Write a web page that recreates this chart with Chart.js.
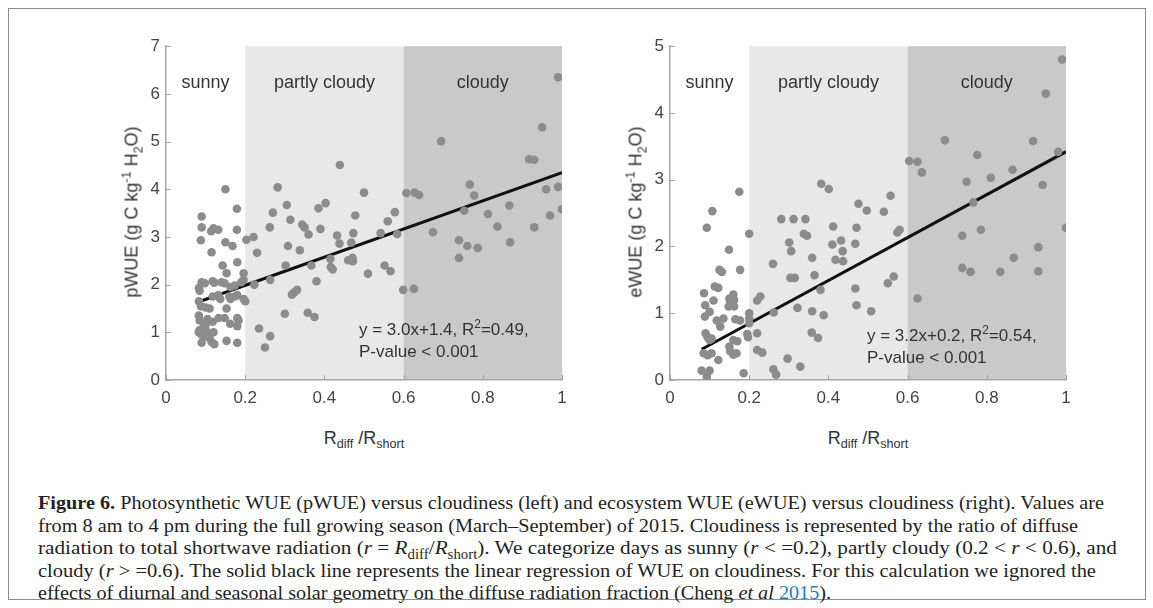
<!DOCTYPE html>
<html>
<head>
<meta charset="utf-8">
<script src="https://cdn.jsdelivr.net/npm/chart.js@4.4.1/dist/chart.umd.min.js"></script>
<style>
  html, body { margin: 0; padding: 0; background: #fff; }
  body { width: 1153px; height: 608px; position: relative; overflow: hidden; font-family: "Liberation Sans", Arial, sans-serif; }
  .frame { position: absolute; left: 8px; top: 8px; width: 1136px; height: 590px; border: 1px solid #8c8c8c; }
  .box { position: absolute; }
  .ytitle { position: absolute; transform: translate(-50%, -50%) rotate(-90deg); white-space: nowrap; font-size: 18px; color: #333; }
  .xtitle { position: absolute; transform: translate(-50%, -50%); white-space: nowrap; font-size: 18px; color: #333; }
  .note { position: absolute; white-space: nowrap; font-size: 17px; color: #333; line-height: 22px; }
  sub, sup { font-size: 70%; line-height: 0; }
  .caption { position: absolute; left: 38px; top: 492px; font-family: "Liberation Serif", "Times New Roman", serif; font-size: 19.5px; line-height: 22.5px; color: #231f20; white-space: nowrap; }
  .caption .ln { display: block; transform-origin: 0 50%; width: max-content; }
  .caption .cite { color: #1a7fc1; }
</style>
</head>
<body>
<div class="frame"></div>

<div class="box" style="left:110px; top:30px; width:470px; height:390px;"><canvas id="pwueChart"></canvas></div>
<div class="box" style="left:614px; top:30px; width:470px; height:390px;"><canvas id="ewueChart"></canvas></div>

<div class="ytitle" style="left:132px; top:212px;">pWUE (g C kg<sup>-1</sup> H<sub>2</sub>O)</div>
<div class="ytitle" style="left:636px; top:212px;">eWUE (g C kg<sup>-1</sup> H<sub>2</sub>O)</div>
<div class="xtitle" style="left:364px; top:438px;">R<sub>diff</sub> /R<sub>short</sub></div>
<div class="xtitle" style="left:868px; top:438px;">R<sub>diff</sub> /R<sub>short</sub></div>

<div class="note" style="left:359px; top:319px;">y = 3.0x+1.4, R<sup>2</sup>=0.49,<br>P-value &lt; 0.001</div>
<div class="note" style="left:867px; top:325px;">y = 3.2x+0.2, R<sup>2</sup>=0.54,<br>P-value &lt; 0.001</div>

<div class="caption">
<span class="ln"><b>Figure 6.</b> Photosynthetic WUE (pWUE) versus cloudiness (left) and ecosystem WUE (eWUE) versus cloudiness (right). Values are</span>
<span class="ln">from 8 am to 4 pm during the full growing season (March–September) of 2015. Cloudiness is represented by the ratio of diffuse</span>
<span class="ln">radiation to total shortwave radiation (<i>r</i> = <i>R</i><sub>diff</sub>/<i>R</i><sub>short</sub>). We categorize days as sunny (<i>r</i> &lt; =0.2), partly cloudy (0.2 &lt; <i>r</i> &lt; 0.6), and</span>
<span class="ln">cloudy (<i>r</i> &gt; =0.6). The solid black line represents the linear regression of WUE on cloudiness. For this calculation we ignored the</span>
<span class="ln">effects of diurnal and seasonal solar geometry on the diffuse radiation fraction (Cheng <i>et al</i> <span class="cite">2015</span>).</span>
</div>

<script>
// cloudiness classes
const regionNames = ['sunny', 'partly cloudy', 'cloudy'];
const regionCenters = [0.1, 0.4, 0.8];
const bandEdges = [0.2, 0.6, 1.0];
const xTicks = [0, 0.2, 0.4, 0.6, 0.8, 1];

// pWUE points (R_diff/R_short, pWUE)
const pwueX = [
  0.15, 0.09, 0.179, 0.09, 0.12, 0.132, 0.114, 0.179, 0.088, 0.115, 0.15, 0.168, 0.18, 0.143, 0.153,
  0.09, 0.098, 0.083, 0.085, 0.118, 0.122, 0.14, 0.148, 0.163, 0.174, 0.196, 0.196, 0.19,
  0.118, 0.132, 0.137, 0.16, 0.163, 0.174, 0.18, 0.196, 0.2, 0.083, 0.088, 0.1, 0.11, 0.153,
  0.083, 0.085, 0.105, 0.118, 0.133, 0.148, 0.162, 0.18, 0.18, 0.183, 0.083, 0.09, 0.095, 0.105,
  0.11, 0.085, 0.1, 0.12, 0.09, 0.115, 0.122, 0.153, 0.18, 0.1, 0.095,
  0.203, 0.221, 0.23, 0.262, 0.27, 0.282, 0.305, 0.314, 0.263, 0.308, 0.302, 0.338, 0.344, 0.35,
  0.36, 0.367, 0.38, 0.385, 0.403, 0.39, 0.432, 0.438, 0.416, 0.421, 0.415, 0.46, 0.318, 0.324,
  0.331, 0.3, 0.358, 0.375, 0.235, 0.263, 0.25, 0.223, 0.439, 0.5, 0.478, 0.578, 0.56, 0.473,
  0.468, 0.471, 0.472, 0.542, 0.584, 0.51, 0.552, 0.567, 0.599,
  0.607, 0.628, 0.639, 0.626, 0.674, 0.695, 0.753, 0.767, 0.778, 0.813, 0.837, 0.867, 0.917,
  0.74, 0.761, 0.787, 0.74, 0.869, 0.93, 0.99, 0.95, 0.96, 0.99, 1.0, 0.93, 0.97
];
const pwueY = [
  4.0, 3.43, 3.59, 3.2, 3.18, 3.15, 3.12, 3.15, 2.93, 2.68, 2.89, 2.81, 2.47, 2.4, 2.24,
  2.05, 2.03, 1.93, 1.87, 2.07, 2.04, 2.05, 2.03, 1.95, 1.98, 2.24, 2.1, 2.05,
  1.75, 1.78, 1.7, 1.75, 1.7, 1.75, 1.78, 1.7, 1.65, 1.65, 1.55, 1.52, 1.5, 1.5,
  1.35, 1.25, 1.28, 1.22, 1.3, 1.3, 1.18, 1.13, 1.3, 1.25, 1.0, 0.95, 0.9, 0.98,
  0.88, 1.05, 1.05, 1.0, 0.78, 0.8, 0.75, 0.82, 0.78, 1.15, 1.1,
  2.94, 3.0, 2.67, 3.2, 3.51, 4.04, 3.67, 3.36, 2.1, 2.81, 2.4, 2.72, 3.26, 3.2,
  3.05, 2.4, 2.07, 3.6, 3.71, 3.17, 3.03, 2.86, 2.37, 2.32, 2.54, 2.51, 1.79, 1.84,
  1.89, 1.39, 1.41, 1.32, 1.08, 0.92, 0.68, 2.0, 4.51, 3.93, 3.45, 3.52, 3.33, 3.08,
  2.88, 2.56, 2.49, 3.08, 3.06, 2.23, 2.4, 2.28, 1.89,
  3.92, 3.93, 3.88, 1.91, 3.1, 5.01, 3.55, 4.1, 3.87, 3.48, 3.22, 3.66, 4.63,
  2.93, 2.81, 2.77, 2.56, 2.89, 4.62, 6.35, 5.3, 4.0, 4.05, 3.58, 3.2, 3.45
];
const pwueFitX = [0.08, 1.0];
const pwueFitY = [1.63, 4.35];

// eWUE points (R_diff/R_short, eWUE)
const ewueX = [
  0.175, 0.107, 0.093, 0.2, 0.149, 0.125, 0.131, 0.177, 0.086, 0.113, 0.122, 0.089, 0.11, 0.1,
  0.088, 0.15, 0.152, 0.16, 0.162, 0.148, 0.162, 0.118, 0.135, 0.165, 0.177, 0.2, 0.2, 0.2,
  0.195, 0.197, 0.09, 0.095, 0.1, 0.105, 0.127, 0.16, 0.17, 0.085, 0.095, 0.105, 0.15, 0.152,
  0.16, 0.168, 0.122, 0.08, 0.1, 0.093, 0.186,
  0.22, 0.228, 0.22, 0.22, 0.233, 0.262, 0.26, 0.261, 0.268, 0.281, 0.312, 0.342, 0.301, 0.306,
  0.304, 0.315, 0.322, 0.338, 0.346, 0.359, 0.365, 0.38, 0.359, 0.358, 0.374, 0.388, 0.297,
  0.329, 0.382, 0.401, 0.412, 0.41, 0.418, 0.432, 0.436, 0.437, 0.468, 0.476, 0.497, 0.54,
  0.557, 0.471, 0.58, 0.574, 0.565, 0.55, 0.468, 0.471, 0.508,
  0.604, 0.625, 0.636, 0.625, 0.694, 0.749, 0.776, 0.81, 0.865, 0.917, 0.941, 0.949, 0.766,
  0.785, 0.738, 0.738, 0.759, 0.834, 0.868, 0.93, 0.93, 0.99, 0.98, 1.0
];
const ewueY = [
  2.82, 2.53, 2.28, 2.19, 1.95, 1.65, 1.62, 1.65, 1.3, 1.4, 1.38, 1.12, 1.19, 1.02,
  0.95, 1.22, 1.18, 1.28, 1.2, 1.1, 1.1, 0.89, 0.92, 0.91, 0.89, 1.0, 0.92, 0.85,
  0.69, 0.64, 0.7, 0.64, 0.6, 0.62, 0.8, 0.6, 0.58, 0.4, 0.37, 0.4, 0.5, 0.43,
  0.38, 0.4, 0.3, 0.14, 0.14, 0.05, 0.1,
  1.19, 1.25, 0.7, 0.45, 0.41, 1.01, 1.74, 0.16, 0.08, 2.41, 2.41, 2.41, 2.06, 1.93,
  1.53, 1.53, 1.08, 2.19, 2.16, 1.83, 1.57, 1.35, 1.03, 0.71, 0.63, 0.97, 0.32,
  0.2, 2.94, 2.86, 2.3, 2.03, 1.8, 2.09, 1.93, 1.78, 2.04, 2.64, 2.54, 2.52,
  2.76, 2.28, 2.25, 2.21, 1.55, 1.45, 1.37, 1.12, 1.03,
  3.28, 3.27, 3.11, 1.22, 3.59, 2.97, 3.37, 3.03, 3.15, 3.58, 2.92, 4.29, 2.66,
  2.25, 2.16, 1.68, 1.62, 1.62, 1.83, 1.99, 1.63, 4.8, 3.42, 2.28
];
const ewueFitX = [0.08, 1.0];
const ewueFitY = [0.46, 3.42];

// caption line lengths in the reference (px)
const captionWidths = [1066, 1040, 1079, 1058, 793];

const pairs = (xs, ys) => xs.map((x, i) => ({ x: x, y: ys[i] }));

// shaded cloudiness bands, inward ticks and class labels
const bandsPlugin = {
  id: 'bands',
  beforeDraw(chart) {
    const { ctx, chartArea, scales } = chart;
    const fills = ['#e8e8e8', '#c9c9c9'];
    ctx.save();
    for (let i = 0; i < 2; i++) {
      const x0 = scales.x.getPixelForValue(bandEdges[i]);
      const x1 = scales.x.getPixelForValue(bandEdges[i + 1]);
      ctx.fillStyle = fills[i];
      ctx.fillRect(x0, chartArea.top, x1 - x0, chartArea.bottom - chartArea.top);
    }
    ctx.restore();
  },
  afterDatasetsDraw(chart) {
    const { ctx, chartArea, scales } = chart;
    ctx.save();
    ctx.strokeStyle = '#a6a6a6';
    ctx.lineWidth = 1;
    scales.x.ticks.forEach(t => {
      const px = Math.round(scales.x.getPixelForValue(t.value)) + 0.5;
      ctx.beginPath();
      ctx.moveTo(px, chartArea.bottom);
      ctx.lineTo(px, chartArea.bottom - 5);
      ctx.stroke();
    });
    scales.y.ticks.forEach(t => {
      const py = Math.round(scales.y.getPixelForValue(t.value)) + 0.5;
      ctx.beginPath();
      ctx.moveTo(chartArea.left, py);
      ctx.lineTo(chartArea.left + 5, py);
      ctx.stroke();
    });
    ctx.fillStyle = '#333';
    ctx.font = '18px "Liberation Sans", Arial, sans-serif';
    ctx.textAlign = 'center';
    ctx.textBaseline = 'middle';
    regionNames.forEach((name, i) => {
      ctx.fillText(name, scales.x.getPixelForValue(regionCenters[i]), chartArea.top + 37);
    });
    ctx.restore();
  }
};

function drawWueChart(canvasId, xs, ys, fitX, fitY, yMax) {
  return new Chart(document.getElementById(canvasId), {
    type: 'scatter',
    data: {
      datasets: [
        {
          data: pairs(xs, ys),
          backgroundColor: '#8c8c8c',
          borderWidth: 0,
          pointRadius: 4.3
        },
        {
          type: 'line',
          data: pairs(fitX, fitY),
          borderColor: '#111',
          borderWidth: 3,
          pointRadius: 0,
          fill: false
        }
      ]
    },
    options: {
      responsive: true,
      maintainAspectRatio: false,
      animation: false,
      events: [],
      layout: { padding: { left: 0, right: 18, top: 15, bottom: 10 } },
      plugins: { legend: { display: false }, tooltip: { enabled: false } },
      scales: {
        x: {
          type: 'linear', min: 0, max: 1,
          afterBuildTicks: s => { s.ticks = xTicks.map(v => ({ value: v })); },
          afterFit: s => { s.height = 30; },
          grid: { display: false, drawTicks: false },
          border: { display: true, color: '#a6a6a6', width: 1.5 },
          ticks: {
            color: '#444', padding: 8, maxRotation: 0,
            font: { size: 17, family: '"Liberation Sans", Arial' },
            callback: v => String(Math.round(v * 10) / 10)
          }
        },
        y: {
          min: 0, max: yMax,
          afterFit: s => { s.width = 56; },
          grid: { display: false, drawTicks: false },
          border: { display: true, color: '#a6a6a6', width: 1.5 },
          ticks: { color: '#444', padding: 6, stepSize: 1, font: { size: 17, family: '"Liberation Sans", Arial' } }
        }
      }
    },
    plugins: [bandsPlugin]
  });
}

drawWueChart('pwueChart', pwueX, pwueY, pwueFitX, pwueFitY, 7);
drawWueChart('ewueChart', ewueX, ewueY, ewueFitX, ewueFitY, 5);

// stretch each caption line to its measured length
document.querySelectorAll('.caption .ln').forEach((el, i) => {
  const w = el.getBoundingClientRect().width;
  el.style.transform = 'scaleX(' + (captionWidths[i] / w).toFixed(4) + ')';
});
</script>
</body>
</html>
